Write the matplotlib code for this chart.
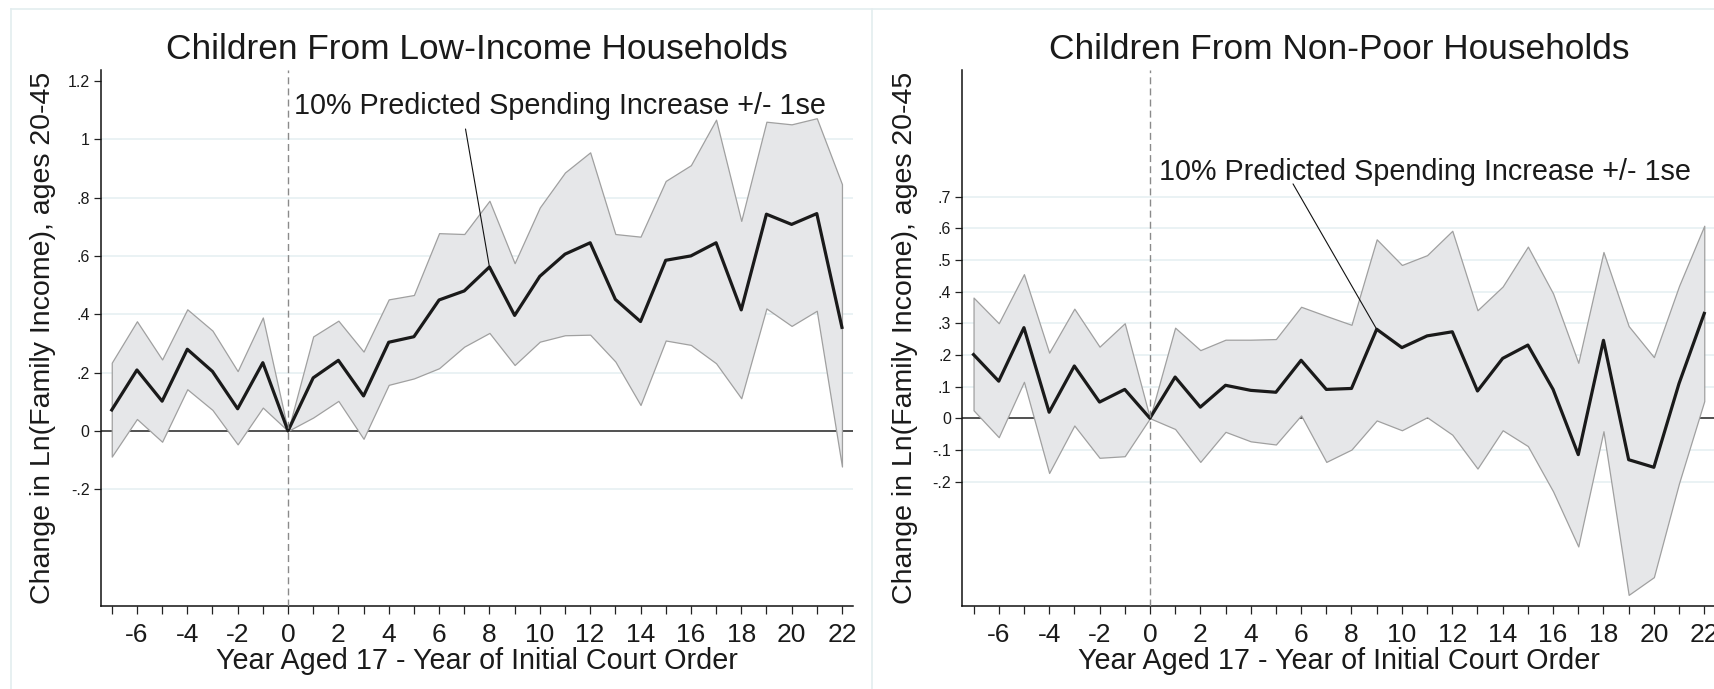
import matplotlib.pyplot as plt
from matplotlib.lines import Line2D

plt.rcParams['font.family'] = ['Liberation Sans', 'DejaVu Sans']

# event time: year aged 17 minus year of initial court order
years = list(range(-7, 23))

# children from low-income households
low_est = [0.072, 0.209, 0.102, 0.280, 0.204, 0.076, 0.234, 0.0, 0.182, 0.242,
           0.120, 0.304, 0.323, 0.449, 0.480, 0.562, 0.396, 0.530, 0.606, 0.645,
           0.451, 0.375, 0.585, 0.600, 0.645, 0.415, 0.743, 0.708, 0.745, 0.355]
low_hi = [0.234, 0.376, 0.245, 0.417, 0.344, 0.205, 0.389, 0.0, 0.324, 0.378,
          0.272, 0.451, 0.466, 0.678, 0.675, 0.789, 0.575, 0.766, 0.886, 0.955,
          0.675, 0.666, 0.857, 0.911, 1.067, 0.720, 1.060, 1.051, 1.072, 0.846]
low_lo = [-0.088, 0.041, -0.037, 0.143, 0.072, -0.046, 0.080, 0.0, 0.046, 0.103,
          -0.027, 0.158, 0.180, 0.215, 0.289, 0.336, 0.226, 0.306, 0.328, 0.330,
          0.238, 0.089, 0.310, 0.295, 0.232, 0.112, 0.420, 0.360, 0.412, -0.122]

# children from non-poor households
np_est = [0.201, 0.117, 0.286, 0.019, 0.165, 0.051, 0.091, 0.0, 0.130, 0.035,
          0.104, 0.088, 0.082, 0.183, 0.091, 0.094, 0.281, 0.223, 0.260, 0.273,
          0.086, 0.189, 0.231, 0.091, -0.115, 0.246, -0.131, -0.155, 0.110, 0.331]
np_hi = [0.381, 0.300, 0.455, 0.207, 0.346, 0.226, 0.300, 0.0, 0.286, 0.215,
         0.248, 0.248, 0.250, 0.352, 0.323, 0.295, 0.565, 0.484, 0.515, 0.592,
         0.341, 0.416, 0.542, 0.394, 0.175, 0.525, 0.291, 0.193, 0.418, 0.608]
np_lo = [0.025, -0.060, 0.115, -0.173, -0.023, -0.125, -0.120, 0.0, -0.034, -0.138,
         -0.043, -0.073, -0.083, 0.009, -0.138, -0.099, -0.007, -0.038, 0.003, -0.052,
         -0.159, -0.038, -0.088, -0.231, -0.405, -0.041, -0.558, -0.502, -0.205, 0.054]

low_yticks = [1.2, 1.0, 0.8, 0.6, 0.4, 0.2, 0.0, -0.2]
np_yticks = [0.7, 0.6, 0.5, 0.4, 0.3, 0.2, 0.1, 0.0, -0.1, -0.2]
xticks = list(range(-7, 23))

note = '10% Predicted Spending Increase +/- 1se'
ylab = 'Change in Ln(Family Income), ages 20-45'
xlab = 'Year Aged 17 - Year of Initial Court Order'


def stata_fmt(v):
    s = f'{v:g}'
    return s.replace('0.', '.')


def draw_panel(ax, est, lo, hi, yticks, grid, ylim, title, note_pos, line_from, point_year):
    ax.set_xlim(-7.44, 22.44)
    ax.set_ylim(*ylim)
    for g in grid:
        ax.axhline(g, color='#e6f0f2', lw=1.2, zorder=0.5)
    ax.axhline(0, color='#333333', lw=1.2, zorder=1)
    ax.fill_between(years, lo, hi, facecolor='#e6e7e9', edgecolor='#a0a0a0',
                    linewidth=0.9, zorder=2)
    ax.plot(years, est, color='#1a1a1a', lw=2.3, zorder=3)
    ax.axvline(0, color='#8a8a8a', lw=1.0, linestyle=(0, (5, 3)), zorder=4)

    ax.set_yticks(yticks)
    ax.set_yticklabels([stata_fmt(v) for v in yticks])
    ax.set_xticks(xticks)
    ax.set_xticklabels([str(t) if t % 2 == 0 else '' for t in xticks])
    ax.tick_params(axis='x', length=5.4, width=0.9, pad=7, labelsize=19,
                   color='#222222', labelcolor='#1a1a1a')
    ax.tick_params(axis='y', length=5, width=0.9, pad=3, labelsize=11.5,
                   color='#222222', labelcolor='#1a1a1a')
    for side in ['top', 'right']:
        ax.spines[side].set_visible(False)
    for side in ['left', 'bottom']:
        ax.spines[side].set_color('#111111')
        ax.spines[side].set_linewidth(1.1)

    ax.text(note_pos[0], note_pos[1], note, fontsize=20.7, va='baseline',
            color='#1a1a1a', zorder=5)
    ax.annotate('', xy=(point_year, est[years.index(point_year)]), xytext=line_from,
                arrowprops=dict(arrowstyle='-', color='#111111', lw=0.8,
                                shrinkA=0, shrinkB=0), zorder=5)

    pos = ax.get_position()
    cx = (pos.x0 + pos.x1) / 2
    fig.text(cx, 0.915, title, ha='center', va='baseline', fontsize=25.4, color='#1a1a1a')
    fig.text(cx, 0.029, xlab, ha='center', va='baseline', fontsize=20.7, color='#1a1a1a')
    fig.text(pos.x0 - 0.0336, 0.509, ylab, rotation=90, ha='center', va='center',
             fontsize=20.5, color='#1a1a1a')


fig = plt.figure(figsize=(17.15, 6.89), dpi=100)
fig.patch.set_facecolor('white')

# light outline of the two combined graph regions
border = '#e3edef'
fig.add_artist(Line2D([0.0064, 1.0], [0.9865, 0.9865], color=border, lw=1.2))
fig.add_artist(Line2D([0.0064, 0.0064], [0.0, 0.9865], color=border, lw=1.2))
fig.add_artist(Line2D([0.5085, 0.5085], [0.0, 0.9865], color=border, lw=1.2))

ax1 = fig.add_axes([0.0587, 0.1205, 0.4387, 0.778])
ax2 = fig.add_axes([0.5612, 0.1205, 0.4390, 0.778])

draw_panel(ax1, low_est, low_lo, low_hi, low_yticks, [1.0, 0.8, 0.6, 0.4, 0.2, -0.2],
           (-0.60, 1.2375), 'Children From Low-Income Households',
           (0.25, 1.085), (7.05, 1.035), 8)
draw_panel(ax2, np_est, np_lo, np_hi, np_yticks, [0.7, 0.6, 0.5, 0.4, 0.3, 0.2, 0.1, -0.1, -0.2],
           (-0.593, 1.10), 'Children From Non-Poor Households',
           (0.36, 0.753), (5.68, 0.74), 9)

fig.savefig('out.png', dpi=100, facecolor='white')
